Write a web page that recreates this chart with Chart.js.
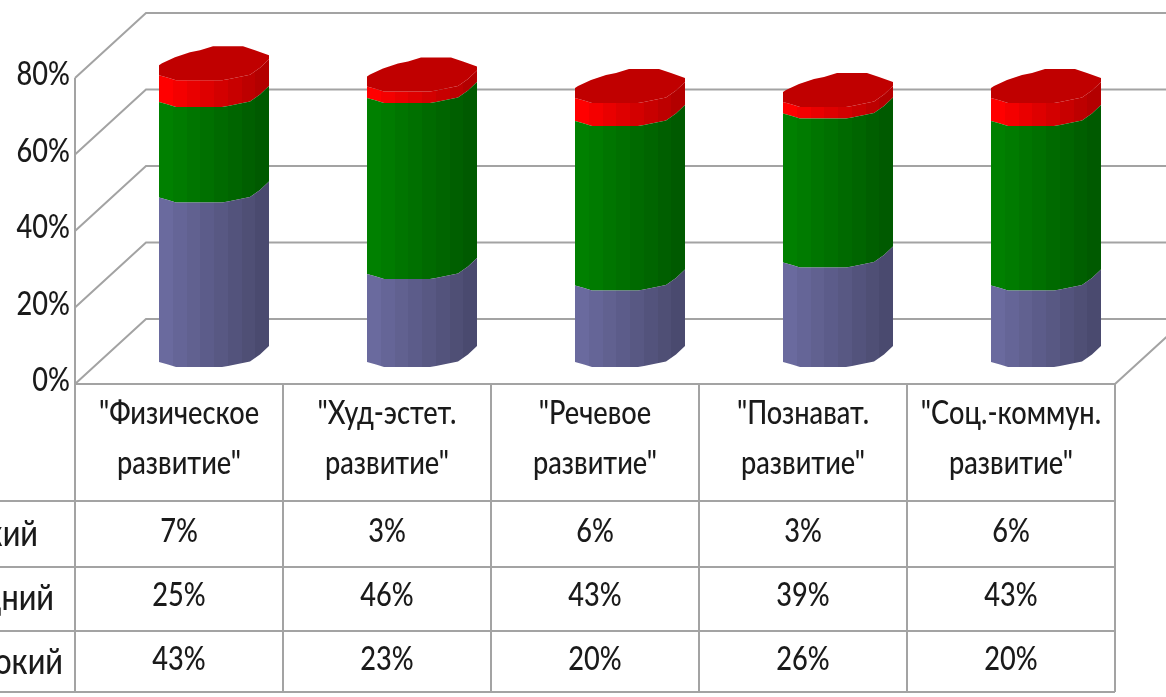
<!DOCTYPE html>
<html><head><meta charset="utf-8">
<style>html,body{margin:0;padding:0;background:#fff;overflow:hidden}canvas{display:block;filter:blur(0.7px)}</style>
<script src="https://cdn.jsdelivr.net/npm/chart.js@4"></script></head>
<body><canvas id="c" width="1166" height="697"></canvas>
<script>
const categories = [['"Физическое','развитие"'],['"Худ-эстет.','развитие"'],['"Речевое','развитие"'],['"Познават.','развитие"'],['"Соц.-коммун.','развитие"']];
const high = [43,23,20,26,20];
const mid = [25,46,43,39,43];
const low = [7,3,6,3,6];
const yTicks = [0,20,40,60,80];
const nameHigh='Высокий', nameMid='Средний', nameLow='Низкий';
const colHigh='#6a6a9e', colMid='#008000', colLow='#ff0000';
const FONT='Lato,"Liberation Sans",sans-serif';
const GRID='#a3a3a3', INK='#1a1a1a';
const TEXT_SX=0.85;
const DX=71, DY=65, CX=35, BANDS=8, RX=55;
// silhouette of one faceted cylinder section, as offsets from its scale position
const lowerEdge=[[-55,-22],[-46,-19.5],[-38,-17],[8,-17],[14,-18],[36,-22.5],[46,-29.5],[55,-38]];
const upperEdge=[[-55,-32],[-52,-34],[-39,-40],[-24,-45],[-14,-47],[-1,-51],[29,-51],[41,-47],[55,-42]];

function shade(hex,f){const n=parseInt(hex.slice(1),16);const c=[n>>16,(n>>8)&255,n&255].map(v=>Math.round(v*f));return `rgb(${c[0]},${c[1]},${c[2]})`;}

Chart.BarElement.prototype.draw=function(ctx){
  const col=this.options.backgroundColor, cx=this.x+CX, yt=this.y, yb=this.base;
  const x0=cx-RX, w=2*RX;
  const g=ctx.createLinearGradient(x0,0,x0+w,0);
  for(let i=0;i<BANDS;i++){const c=shade(col,1-0.30*i/(BANDS-1));g.addColorStop(i/BANDS,c);g.addColorStop((i+1)/BANDS,c);}
  ctx.save();
  ctx.fillStyle=g;ctx.beginPath();
  lowerEdge.forEach((p,i)=>{const X=cx+p[0],Y=yb+p[1];i?ctx.lineTo(X,Y):ctx.moveTo(X,Y);});
  lowerEdge.slice().reverse().forEach(p=>ctx.lineTo(cx+p[0],yt+p[1]));
  ctx.closePath();ctx.fill();
  if(col===colLow){
    ctx.fillStyle='#c00000';ctx.beginPath();
    upperEdge.forEach((p,i)=>{const X=cx+p[0],Y=yt+p[1];i?ctx.lineTo(X,Y):ctx.moveTo(X,Y);});
    lowerEdge.slice().reverse().forEach(p=>ctx.lineTo(cx+p[0],yt+p[1]));
    ctx.closePath();ctx.fill();
  }
  ctx.restore();
};

const frame={id:'frame',
  beforeInit(chart){ // narrow every label horizontally, around its own anchor
    const ctx=chart.ctx, orig=ctx.fillText;
    ctx.fillText=function(t,x,y,m){this.save();this.translate(x,y);this.scale(TEXT_SX,1);orig.call(this,t,0,0);this.restore();};
  },
  beforeDatasetsDraw(chart){
    const {ctx,scales:{y},chartArea:a}=chart;
    ctx.save();ctx.strokeStyle=GRID;ctx.lineWidth=2;ctx.beginPath();
    yTicks.forEach(v=>{const p=y.getPixelForValue(v);
      ctx.moveTo(a.left,p);ctx.lineTo(a.left+DX,p-DY);ctx.lineTo(a.right+DX,p-DY);});
    const p0=y.getPixelForValue(0);
    ctx.moveTo(a.right,p0);ctx.lineTo(a.right+DX,p0-DY);
    ctx.stroke();ctx.restore();
  },
  afterDraw(chart){
    const {ctx,scales:{x},chartArea:a}=chart;
    const rowLines=[501,567,631,692];
    const band=(a.right-a.left)/categories.length;
    ctx.save();ctx.strokeStyle=GRID;ctx.lineWidth=2;ctx.beginPath();
    ctx.moveTo(a.left,a.top);ctx.lineTo(a.left,rowLines[3]);
    ctx.moveTo(a.left,a.bottom);ctx.lineTo(a.right,a.bottom);
    categories.forEach((c,i)=>{const xx=x.getPixelForTick(i)+band/2;ctx.moveTo(xx,a.bottom);ctx.lineTo(xx,rowLines[3]);});
    rowLines.forEach(r=>{ctx.moveTo(0,r);ctx.lineTo(a.right,r);});
    ctx.stroke();
    ctx.fillStyle=INK;ctx.textBaseline='middle';
    const rows=[[nameLow,low,532,38,534],[nameMid,mid,596,54,598],[nameHigh,high,660,63,662]];
    rows.forEach(([n,vals,ry,lx,ly])=>{
      ctx.font='500 36px '+FONT;ctx.textAlign='right';ctx.fillText(n,lx,ly);
      ctx.font='500 32px '+FONT;ctx.textAlign='center';vals.forEach((v,i)=>ctx.fillText(v+'%',x.getPixelForTick(i),ry));
    });
    ctx.restore();
  }};

new Chart(document.getElementById('c'),{
  type:'bar',
  data:{labels:categories,datasets:[
    {label:nameHigh,data:high,backgroundColor:colHigh,clip:false},
    {label:nameMid,data:mid,backgroundColor:colMid,clip:false},
    {label:nameLow,data:low,backgroundColor:colLow,clip:false}]},
  plugins:[frame],
  options:{responsive:false,animation:false,
    layout:{padding:{top:78,right:51,left:0,bottom:0}},
    datasets:{bar:{categoryPercentage:1,barPercentage:110/208}},
    plugins:{legend:{display:false},title:{display:false},tooltip:{enabled:false}},
    scales:{
      x:{stacked:true,afterFit(s){s.height=313;},grid:{display:false,drawTicks:false},border:{display:false},
         ticks:{color:INK,font:{family:FONT,size:32,weight:'500',lineHeight:1.58},padding:4,maxRotation:0,autoSkip:false}},
      y:{stacked:true,min:0,max:80,afterFit(s){s.width=75;},grid:{display:false,drawTicks:false},border:{display:false},
         ticks:{color:INK,font:{family:FONT,size:32,weight:'500'},stepSize:20,padding:5,labelOffset:-3,callback:v=>v+'%'}}
    }}
});
</script></body></html>
